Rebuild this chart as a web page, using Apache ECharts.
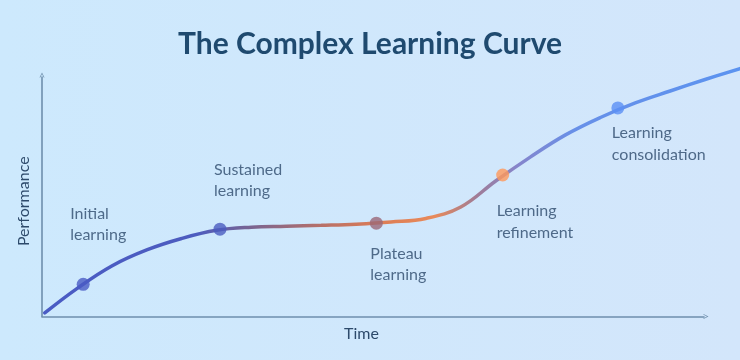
<!DOCTYPE html>
<html>
<head>
<meta charset="utf-8">
<script src="https://cdn.jsdelivr.net/npm/echarts@6/dist/echarts.min.js"></script>
<style>
  html, body { margin: 0; padding: 0; }
  #chart { width: 740px; height: 360px; }
</style>
</head>
<body>
<div id="chart"></div>
<script>
// Learning curve: time vs. performance (arbitrary units)
const curveTime = [0.4, 5, 10, 15, 20, 25, 30, 35, 40, 45, 50, 55, 60, 65, 70, 75, 80, 85, 90, 95, 100];
const curvePerformance = [1.5, 11.7, 21.2, 27.9, 32.7, 36.1, 37.4, 37.8, 38.2, 38.7, 39.6, 41.1, 45.9, 56.8, 66.9, 76.1, 83.4, 89.5, 94.5, 99.3, 103.9];

// Stages marked along the curve
const stageNames = ['Initial\nlearning', 'Sustained\nlearning', 'Plateau\nlearning', 'Learning\nrefinement', 'Learning\nconsolidation'];
const stageTime = [5.9, 25.5, 47.9, 66.0, 82.5];
const stagePerformance = [13.5, 36.6, 39.1, 59.3, 87.4];

// Presentation
const stageColors = ['#4a5bc4', '#4a5bbf', '#9a6878', '#ff995a', '#5b90f5'];
const stageLabelOffsets = [[-13, -60], [-6, -49], [-6, 41], [-6, 47], [-6, 36]];
const textColor = '#2d4a6b';
const axisColor = '#6f8fad';

const chart = echarts.init(document.getElementById('chart'));

const chevron = 'path://M0,10 L5,0 L10,10 L8.4,10 L5,3 L1.6,10 Z';

chart.setOption({
  backgroundColor: new echarts.graphic.LinearGradient(0, 0, 1, 0, [
    { offset: 0, color: '#cde9fd' },
    { offset: 1, color: '#d3e6fb' }
  ]),
  animation: false,
  title: {
    text: 'The Complex Learning Curve',
    left: 'center',
    top: 24,
    textStyle: { fontFamily: 'Lato', fontWeight: 'bold', fontSize: 30, color: '#1f4a6f' }
  },
  grid: [
    // axes frame
    { left: 42, right: 36, top: 77, bottom: 43.5 },
    // curve area (extends to the right edge)
    { left: 42, right: 0, top: 54, bottom: 43.5 }
  ],
  xAxis: [
    {
      gridIndex: 0, type: 'value', min: 0, max: 100,
      name: 'Time', nameLocation: 'middle', nameGap: 9,
      nameTextStyle: { fontFamily: 'Lato', fontSize: 16, color: textColor, padding: [0, 23, 0, 0] },
      axisLine: { show: true, symbol: ['none', chevron], symbolSize: [8, 5], symbolOffset: [0, 2],
                  lineStyle: { color: axisColor, width: 1.6 } },
      axisTick: { show: false }, axisLabel: { show: false }, splitLine: { show: false }
    },
    {
      gridIndex: 1, type: 'value', min: 0, max: 100, show: false
    }
  ],
  yAxis: [
    {
      gridIndex: 0, type: 'value', min: 0, max: 100,
      name: 'Performance', nameLocation: 'middle', nameGap: 10, nameRotate: 90,
      nameTextStyle: { fontFamily: 'Lato', fontSize: 16, color: textColor, padding: [0, 9, 0, 0] },
      axisLine: { show: true, symbol: ['none', chevron], symbolSize: [8, 5], symbolOffset: [0, 2],
                  lineStyle: { color: axisColor, width: 1.6 } },
      axisTick: { show: false }, axisLabel: { show: false }, splitLine: { show: false }
    },
    {
      gridIndex: 1, type: 'value', min: 0, max: 110, show: false
    }
  ],
  series: [
    {
      type: 'line',
      xAxisIndex: 1, yAxisIndex: 1,
      data: curveTime.map((t, i) => [t, curvePerformance[i]]),
      smooth: 0.4,
      showSymbol: false,
      clip: false,
      lineStyle: {
        width: 3.5,
        cap: 'round',
        color: new echarts.graphic.LinearGradient(0, 0, 1, 0, [
          { offset: 0.00, color: '#4a5cc4' },
          { offset: 0.22, color: '#4d5cbf' },
          { offset: 0.30, color: '#7a6490' },
          { offset: 0.40, color: '#b87068' },
          { offset: 0.48, color: '#dc7d56' },
          { offset: 0.56, color: '#e88a5a' },
          { offset: 0.62, color: '#a07c96' },
          { offset: 0.68, color: '#8585cc' },
          { offset: 0.76, color: '#6890e8' },
          { offset: 1.00, color: '#5b93f0' }
        ])
      },
      z: 2
    },
    {
      type: 'scatter',
      xAxisIndex: 1, yAxisIndex: 1,
      symbolSize: 13,
      data: stageTime.map((t, i) => ({
        value: [t, stagePerformance[i]],
        name: stageNames[i],
        itemStyle: { color: stageColors[i] },
        label: { offset: stageLabelOffsets[i] }
      })),
      label: {
        show: true,
        position: 'inside',
        align: 'left',
        verticalAlign: 'middle',
        formatter: p => p.name,
        fontFamily: 'Lato',
        fontSize: 16,
        lineHeight: 21.5,
        color: textColor
      },
      z: 3
    }
  ]
});
</script>
</body>
</html>
